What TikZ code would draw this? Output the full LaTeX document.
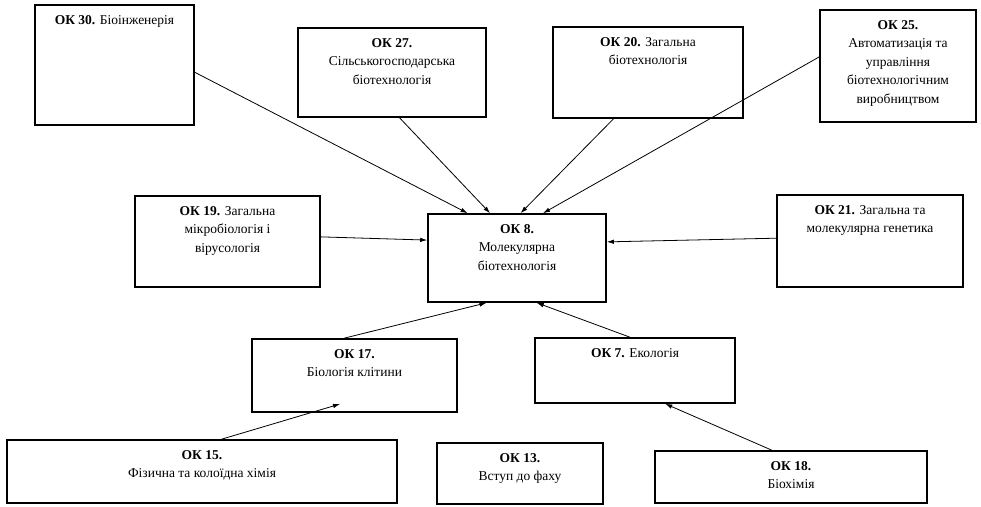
\documentclass[tikz,border=0pt]{standalone}
\usepackage{fontspec}
\setmainfont{Liberation Serif}
\usetikzlibrary{calc,arrows.meta}
\tikzset{
  box/.style={draw, line width=1.6pt, inner sep=0pt, fill=none},
  txt/.style={anchor=north, align=center, inner sep=0pt, yshift=-11pt,
              font=\fontsize{13.5}{18.5}\selectfont},
  arr/.style={-{Latex[length=7pt,width=4.5pt]}, line width=0.8pt},
}
\newcommand{\mkbox}[6]{%
  \node[box, minimum width=#4pt, minimum height=#5pt] (#1) at (#2,#3) {};
  \node[txt] (#1t) at (#1.north) {#6};
}
\begin{document}
\begin{tikzpicture}[x=1pt,y=-1pt]
\useasboundingbox (0,0) rectangle (981,506);
\mkbox{ok30}{114.5}{65}{159}{120}{\textbf{ОК 30.} Біоінженерія}
\mkbox{ok27}{392}{72.5}{188}{89}{\textbf{ОК 27.}\\Сільськогосподарська\\біотехнологія}
\mkbox{ok20}{648}{72.5}{190}{91}{\textbf{ОК 20.} Загальна\\біотехнологія}
\mkbox{ok25}{898}{66}{156}{112}{\textbf{ОК 25.}\\Автоматизація та\\управління\\біотехнологічним\\виробництвом}
\mkbox{ok19}{227.5}{241.5}{185}{91}{\textbf{ОК 19.} Загальна\\мікробіологія і\\вірусологія}
\mkbox{ok8}{517}{258}{178}{88}{\textbf{ОК 8.}\\Молекулярна\\біотехнологія}
\mkbox{ok21}{870}{241}{186}{92}{\textbf{ОК 21.} Загальна та\\молекулярна генетика}
\mkbox{ok17}{354.5}{375.5}{205}{73}{\textbf{ОК 17.}\\Біологія клітини}
\mkbox{ok7}{635}{370.5}{200}{65}{\textbf{ОК 7.} Екологія}
\mkbox{ok15}{202}{471.5}{390}{63}{\textbf{ОК 15.}\\Фізична та колоїдна хімія}
\mkbox{ok13}{520}{473.5}{166}{61}{\textbf{ОК 13.}\\Вступ до фаху}
\mkbox{ok18}{791}{477}{272}{52}{\textbf{ОК 18.}\\Біохімія}
\coordinate (p15) at (340,404);
\draw[arr] ($(ok30.north east)!0.56!(ok30.south east)$) -- ($(ok8.north west)!0.225!(ok8.north east)$);
\draw[arr] ($(ok27.south west)!0.54!(ok27.south east)$) -- ($(ok8.north west)!0.35!(ok8.north east)$);
\draw[arr] ($(ok20.south west)!0.32!(ok20.south east)$) -- ($(ok8.north west)!0.52!(ok8.north east)$);
\draw[arr] ($(ok25.north west)!0.42!(ok25.south west)$) -- ($(ok8.north west)!0.645!(ok8.north east)$);
\draw[arr] ($(ok19.north east)!0.45!(ok19.south east)$) -- ($(ok8.north west)!0.30!(ok8.south west)$);
\draw[arr] ($(ok21.north west)!0.47!(ok21.south west)$) -- ($(ok8.north east)!0.32!(ok8.south east)$);
\draw[arr] ($(ok17.north west)!0.45!(ok17.north east)$) -- ($(ok8.south west)!0.33!(ok8.south east)$);
\draw[arr] ($(ok7.north west)!0.475!(ok7.north east)$) -- ($(ok8.south west)!0.61!(ok8.south east)$);
\draw[arr] ($(ok15.north west)!0.55!(ok15.north east)$) -- (p15);
\draw[arr] ($(ok18.north west)!0.43!(ok18.north east)$) -- ($(ok7.south west)!0.65!(ok7.south east)$);
\end{tikzpicture}
\end{document}
